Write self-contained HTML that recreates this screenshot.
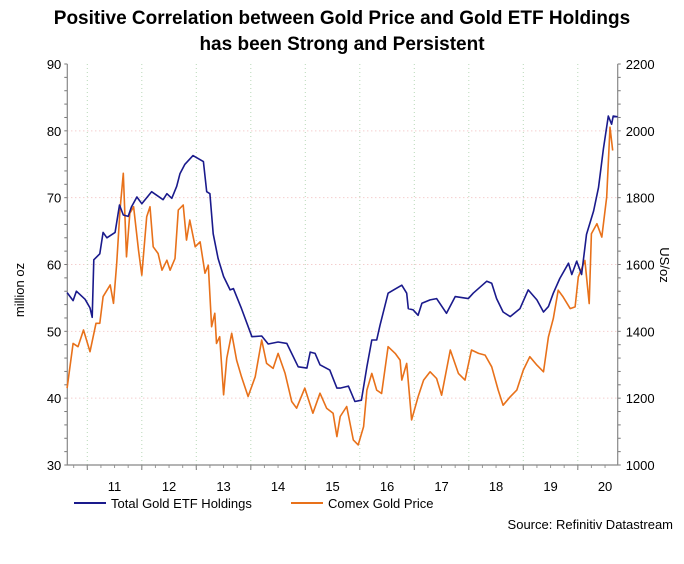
<!DOCTYPE html>
<html><head><meta charset="utf-8"><style>
body{margin:0;background:#fff;width:684px;height:559px;overflow:hidden;font-family:"Liberation Sans",Arial,sans-serif}
</style></head><body>
<svg width="684" height="559" id="c" xmlns="http://www.w3.org/2000/svg" font-family="Liberation Sans, Arial, sans-serif">
<text x="342" y="24" text-anchor="middle" font-size="19" font-weight="bold">Positive Correlation between Gold Price and Gold ETF Holdings</text>
<text x="342" y="50" text-anchor="middle" font-size="19" font-weight="bold">has been Strong and Persistent</text>
<text transform="translate(24,290) rotate(-90)" text-anchor="middle" font-size="13">million oz</text>
<text transform="translate(660,265) rotate(90)" text-anchor="middle" font-size="13">US/oz</text>
<g id="grid"></g><g id="axes"></g><g id="series"></g>
<g>
<line x1="74" y1="503" x2="106" y2="503" stroke="#1a1a8c" stroke-width="2"/>
<text x="111" y="508" font-size="13">Total Gold ETF Holdings</text>
<line x1="291" y1="503" x2="323" y2="503" stroke="#e8711a" stroke-width="2"/>
<text x="328" y="508" font-size="13">Comex Gold Price</text>
</g>
<text x="673" y="529" text-anchor="end" font-size="13">Source: Refinitiv Datastream</text>
</svg>
<script>
const etfYears=[2010.63,2010.74,2010.80,2010.96,2011.05,2011.09,2011.12,2011.23,2011.29,2011.36,2011.51,2011.59,2011.66,2011.75,2011.81,2011.91,2012.00,2012.18,2012.39,2012.46,2012.55,2012.64,2012.70,2012.79,2012.94,2013.13,2013.19,2013.25,2013.31,2013.40,2013.50,2013.62,2013.68,2013.83,2014.02,2014.20,2014.32,2014.50,2014.66,2014.87,2015.03,2015.09,2015.18,2015.27,2015.45,2015.58,2015.64,2015.79,2015.91,2016.03,2016.13,2016.22,2016.31,2016.37,2016.52,2016.62,2016.77,2016.86,2016.89,2016.98,2017.07,2017.14,2017.29,2017.41,2017.59,2017.75,2017.99,2018.08,2018.33,2018.42,2018.51,2018.63,2018.76,2018.94,2019.09,2019.25,2019.37,2019.46,2019.55,2019.67,2019.83,2019.89,2019.98,2020.07,2020.16,2020.29,2020.38,2020.47,2020.56,2020.62,2020.65,2020.73];
const etfValues=[55.8,54.6,56,54.8,53.5,52.1,60.7,61.6,64.8,64.0,64.8,68.9,67.4,67.2,68.6,70.1,69.1,70.9,69.7,70.6,69.9,71.7,73.6,75.0,76.3,75.4,70.9,70.6,64.6,60.9,58.2,56.2,56.4,53.4,49.2,49.3,48.1,48.4,48.2,44.7,44.5,46.9,46.7,45.0,44.2,41.5,41.5,41.8,39.5,39.7,44.7,48.7,48.7,50.9,55.7,56.2,56.9,55.7,53.4,53.2,52.4,54.2,54.7,54.9,52.7,55.2,54.9,55.7,57.5,57.2,54.9,52.9,52.2,53.4,56.2,54.7,52.9,53.7,55.7,57.9,60.2,58.5,60.5,58.5,64.5,68.0,71.5,77.3,82.2,81.0,82.2,82.1];
const goldYears=[2010.63,2010.74,2010.83,2010.93,2011.05,2011.16,2011.23,2011.29,2011.42,2011.48,2011.54,2011.60,2011.66,2011.72,2011.78,2011.85,2011.94,2012.00,2012.09,2012.15,2012.21,2012.30,2012.37,2012.46,2012.52,2012.61,2012.67,2012.76,2012.82,2012.88,2012.98,2013.07,2013.16,2013.22,2013.28,2013.34,2013.37,2013.43,2013.50,2013.56,2013.65,2013.74,2013.83,2013.95,2014.08,2014.20,2014.29,2014.41,2014.50,2014.63,2014.75,2014.84,2014.99,2015.14,2015.27,2015.39,2015.51,2015.58,2015.64,2015.76,2015.88,2015.97,2016.07,2016.13,2016.22,2016.31,2016.40,2016.52,2016.65,2016.74,2016.77,2016.86,2016.95,2017.07,2017.17,2017.29,2017.41,2017.50,2017.66,2017.81,2017.93,2018.05,2018.18,2018.30,2018.42,2018.54,2018.63,2018.76,2018.88,2019.00,2019.12,2019.25,2019.37,2019.46,2019.55,2019.64,2019.73,2019.86,2019.95,2020.01,2020.13,2020.21,2020.25,2020.35,2020.44,2020.53,2020.59,2020.64];
const goldValues=[1230,1364,1354,1404,1339,1424,1424,1504,1539,1484,1603,1763,1873,1623,1753,1773,1643,1568,1743,1773,1653,1633,1583,1613,1583,1618,1763,1778,1673,1733,1653,1668,1574,1598,1414,1454,1364,1384,1210,1320,1394,1314,1264,1205,1264,1374,1304,1289,1334,1274,1190,1170,1230,1155,1215,1170,1155,1085,1145,1175,1075,1060,1115,1224,1274,1224,1214,1354,1334,1314,1254,1304,1135,1204,1254,1279,1259,1209,1344,1274,1254,1344,1334,1329,1294,1224,1179,1204,1224,1284,1324,1299,1279,1383,1438,1523,1503,1468,1473,1563,1612,1483,1692,1722,1682,1802,2011,1941];
const yearLabels=['11','12','13','14','15','16','17','18','19','20'];
const leftTicks=[30,40,50,60,70,80,90];
const rightTicks=[1000,1200,1400,1600,1800,2000,2200];
const L=67.3,R=617.7,T=64,B=465;
const xS=t=>87.3+(t-2011)*54.5;
const yL=v=>B-(v-30)/60*(B-T);
const yR=v=>B-(v-1000)/1200*(B-T);
const NS='http://www.w3.org/2000/svg';
function mk(tag,attrs,parent,txt){const e=document.createElementNS(NS,tag);for(const k in attrs)e.setAttribute(k,attrs[k]);if(txt!==undefined)e.textContent=txt;document.getElementById(parent).appendChild(e);return e;}
for(let i=0;i<leftTicks.length;i++){const y=yL(leftTicks[i]);
 if(i>0&&i<leftTicks.length-1){const g=mk('line',{x1:L,x2:R,y1:y,y2:y,stroke:'#f0b8b8','stroke-dasharray':'1 3','stroke-width':1},'grid');
 
 }
 const t=mk('text',{x:L-6,y:y+5,'text-anchor':'end','font-size':13},'axes',leftTicks[i]);
 
 
 const r=mk('text',{x:R+8,y:yR(rightTicks[i])+5,'font-size':13},'axes',rightTicks[i]);
 
 }
for(let v=30;v<=90;v+=2){mk('line',{x1:L-3,x2:L,y1:yL(v),y2:yL(v),stroke:'#777'},'axes');mk('line',{x1:R,x2:R+3,y1:yL(v),y2:yL(v),stroke:'#777'},'axes');}
for(let i=0;i<yearLabels.length;i++){const yr=2011+i;const x=xS(yr);
 const g=mk('line',{x1:x,x2:x,y1:T,y2:B,stroke:'#b8d8b8','stroke-dasharray':'1 3'},'grid');
 
 
 mk('line',{x1:x,x2:x,y1:B,y2:B+5,stroke:'#777'},'axes');
 const t=mk('text',{x:xS(yr+0.5),y:B+26,'text-anchor':'middle','font-size':13},'axes',yearLabels[i]);
 
 }
for(let q=2010.75;q<2020.75;q+=0.25){mk('line',{x1:xS(q),x2:xS(q),y1:B,y2:B+3,stroke:'#999'},'axes');}
const ax=mk('path',{d:`M${L},${T}V${B}H${R}V${T}`,fill:'none',stroke:'#888','stroke-width':1.2},'axes');


const gp=mk('polyline',{points:goldYears.map((t,i)=>xS(t).toFixed(1)+','+yR(goldValues[i]).toFixed(1)).join(' '),fill:'none',stroke:'#e8711a','stroke-width':1.6,'stroke-linejoin':'round'},'series');


const ep=mk('polyline',{points:etfYears.map((t,i)=>xS(t).toFixed(1)+','+yL(etfValues[i]).toFixed(1)).join(' '),fill:'none',stroke:'#1a1a8c','stroke-width':1.6,'stroke-linejoin':'round'},'series');


</script>
</body></html>
